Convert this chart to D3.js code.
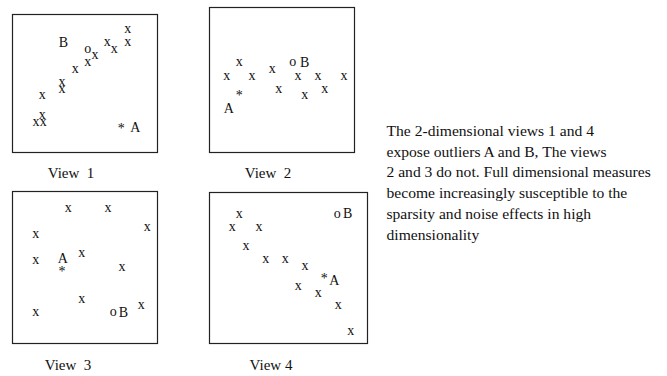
<!DOCTYPE html>
<html>
<head>
<meta charset="utf-8">
<script src="https://cdn.jsdelivr.net/npm/d3@7"></script>
<style>
  html, body { margin: 0; padding: 0; background: #fff; }
  svg { display: block; }
  text { font-family: "Liberation Serif", "Times New Roman", serif; fill: #111; }
</style>
</head>
<body>
<svg id="chart" width="667" height="376"></svg>
<script>
// Panel titles
const viewTitles = ["View  1", "View  2", "View  3", "View 4"];

// Points per view: [x, y, symbol] in a 0-100 coordinate space
const view1Points = [
  [79.8, 88.4, "x"], [79.8, 78.8, "x"], [52.2, 73.9, "o"], [57.2, 69.6, "x"],
  [52.2, 64.7, "x"], [65.7, 79.2, "x"], [70.6, 73.9, "x"], [43.7, 59.9, "x"],
  [34.5, 50.5, "x"], [34.5, 45.4, "x"], [20.9, 40.6, "x"], [20.9, 26.3, "x"],
  [16.6, 21.5, "x"], [21.6, 21.5, "x"], [75.4, 19.1, "*"]
];
const view2Points = [
  [20.9, 61.6, "x"], [12.2, 51.9, "x"], [29.7, 51.9, "x"], [43.7, 56.6, "x"],
  [57.7, 61.6, "o"], [61.4, 51.9, "x"], [75.2, 51.9, "x"], [93.1, 51.9, "x"],
  [48.1, 43.2, "x"], [66.0, 38.6, "x"], [79.8, 43.2, "x"], [20.9, 40.5, "*"]
];
const view3Points = [
  [38.8, 88.6, "x"], [66.2, 88.6, "x"], [93.3, 75.9, "x"], [16.3, 71.1, "x"],
  [16.3, 54.1, "x"], [34.5, 48.5, "*"], [48.1, 58.6, "x"], [75.9, 49.8, "x"],
  [48.1, 28.3, "x"], [16.3, 19.9, "x"], [69.9, 19.9, "o"], [89.2, 24.5, "x"]
];
const view4Points = [
  [19.2, 85.2, "x"], [14.7, 76.4, "x"], [31.6, 76.4, "x"], [81.2, 85.2, "o"],
  [23.4, 63.6, "x"], [35.9, 55.0, "x"], [48.3, 55.0, "x"], [60.8, 50.5, "x"],
  [73.0, 44.6, "*"], [56.5, 37.3, "x"], [69.2, 32.9, "x"], [81.8, 24.5, "x"],
  [89.7, 7.1, "x"]
];

// Outlier labels per view: [x, y, label]
const view1Labels = [[35.4, 79.5, "B"], [85.0, 17.6, "A"]];
const view2Labels = [[66.0, 62.1, "B"], [13.6, 30.1, "A"]];
const view3Labels = [[35.0, 55.7, "A"], [76.8, 20.4, "B"]];
const view4Labels = [[87.8, 85.6, "B"], [79.3, 41.7, "A"]];

// Side note
const noteLines = [
  "The 2-dimensional views 1 and 4",
  "expose outliers A and B, The views",
  "2 and 3 do not. Full dimensional measures",
  "become increasingly susceptible to the",
  "sparsity and noise effects in high",
  "dimensionality"
];

// Panel frames (pixels) and title anchors
const panels = [
  { box: [12, 14, 145, 138], title: [71, 178], points: view1Points, labels: view1Labels },
  { box: [209, 7, 145, 145], title: [268, 178], points: view2Points, labels: view2Labels },
  { box: [12, 191, 145, 152], title: [68, 370], points: view3Points, labels: view3Labels },
  { box: [209, 192, 158, 151], title: [271, 370], points: view4Points, labels: view4Labels }
];

// Vertical shift (em) that centres each glyph on its point
const glyphDy = { "x": "0.23em", "o": "0.23em", "*": "0.5em" };

const svg = d3.select("#chart");

panels.forEach((p, i) => {
  const [bx, by, bw, bh] = p.box;
  const x = d3.scaleLinear().domain([0, 100]).range([bx, bx + bw]);
  const y = d3.scaleLinear().domain([0, 100]).range([by + bh, by]);
  const g = svg.append("g");

  g.append("rect")
    .attr("x", bx + 0.5).attr("y", by + 0.5)
    .attr("width", bw).attr("height", bh)
    .attr("fill", "none").attr("stroke", "#222").attr("stroke-width", 1.2);

  g.selectAll("text.pt").data(p.points).join("text")
    .attr("class", "pt")
    .attr("x", d => x(d[0])).attr("y", d => y(d[1]))
    .attr("dy", d => glyphDy[d[2]])
    .attr("text-anchor", "middle")
    .style("font-size", "14px")
    .text(d => d[2]);

  g.selectAll("text.lbl").data(p.labels).join("text")
    .attr("class", "lbl")
    .attr("x", d => x(d[0])).attr("y", d => y(d[1]))
    .attr("dy", "0.33em")
    .attr("text-anchor", "middle")
    .style("font-size", "14px")
    .text(d => d[2]);

  g.append("text")
    .attr("x", p.title[0]).attr("y", p.title[1])
    .attr("text-anchor", "middle")
    .style("font-size", "15px")
    .style("white-space", "pre")
    .text(viewTitles[i]);
});

svg.append("g").selectAll("text").data(noteLines).join("text")
  .attr("x", 386.5)
  .attr("y", (d, i) => 136 + i * 20.7)
  .style("font-size", "15.6px")
  .text(d => d);
</script>
</body>
</html>
